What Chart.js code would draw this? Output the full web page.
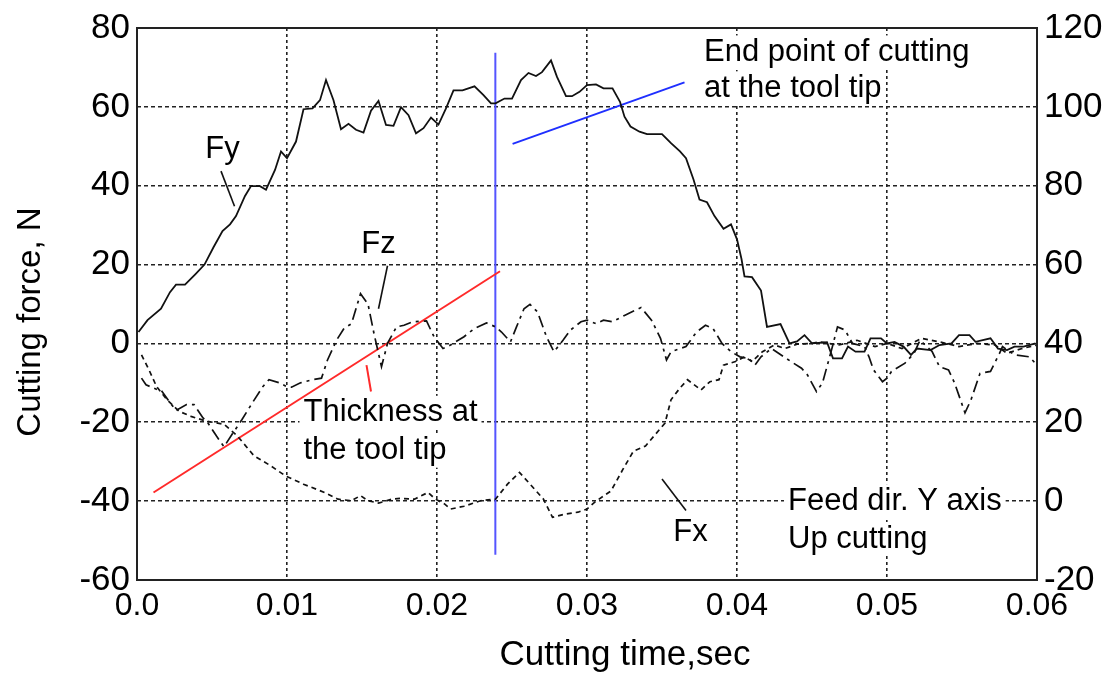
<!DOCTYPE html>
<html>
<head>
<meta charset="utf-8">
<script src="https://cdn.jsdelivr.net/npm/chart.js@4.4.1/dist/chart.umd.min.js"></script>
<style>
  body { margin: 0; background: #fff; }
  canvas { display: block; }
</style>
</head>
<body>
<canvas id="forceCanvas" width="1110" height="676"></canvas>
<script>
// axis ticks
var xTickVals = [0, 0.01, 0.02, 0.03, 0.04, 0.05, 0.06];
var xTickLabels = ['0.0', '0.01', '0.02', '0.03', '0.04', '0.05', '0.06'];
var yLeftTicks = [-60, -40, -20, 0, 20, 40, 60, 80];
var yRightTicks = [-20, 0, 20, 40, 60, 80, 100, 120];

// Fy (solid)
var fyT = [0.0001,0.0007,0.0016,0.0022,0.0026,0.0032,0.0039,0.0045,0.0051,0.0057,0.0062,0.0066,0.0072,0.0076,0.0082,0.0086,0.0092,0.0096,0.0100,0.0106,
  0.0111,0.0117,0.0122,0.0126,0.0131,0.0136,0.0141,0.0146,0.0151,0.0156,0.0161,0.0166,0.0171,0.0176,0.0181,0.0186,0.0191,0.0196,0.0201,0.0206,
  0.0211,0.0217,0.0225,0.0231,0.0236,0.0239,0.0245,0.0250,0.0256,0.0261,0.0266,0.0270,0.0276,0.0280,0.0286,0.0290,0.0295,0.0300,0.0306,0.0311,
  0.0317,0.0322,0.0325,0.0329,0.0335,0.0340,0.0350,0.0356,0.0362,0.0366,0.0371,0.0375,0.0380,0.0385,0.0391,0.0396,0.0400,0.0403,0.0405,0.0410,
  0.0416,0.0420,0.0429,0.0435,0.0440,0.0445,0.0450,0.0460,0.0464,0.0470,0.0474,0.0479,0.0485,0.0489,0.0496,0.0500,0.0505,0.0511,0.0516,0.0520,
  0.0529,0.0535,0.0543,0.0548,0.0555,0.0559,0.0569,0.0574,0.0580,0.0585,0.0591,0.0599];
var fyV = [2.9,5.9,8.8,13,14.9,14.9,17.6,20,24.4,28.5,30.2,32.3,37.4,39.9,39.9,39,44,48.7,47,51.2,
  59.4,59.6,61.7,66.8,61.7,54.3,55.7,54.2,53.5,59,61.5,55.4,55.2,59.9,57.9,53.3,54.6,57.3,55.5,59.6,
  64.2,64.2,65.2,63,60.9,60.9,62.1,62.1,66.8,68.6,67.8,68.8,71.8,67.6,62.7,62.7,63.8,65.5,65.7,64.7,
  64.7,61.3,57.5,55,53.7,53.1,53.1,50.8,48.7,47,41.6,36.5,35.8,32.3,29.1,30.2,26.4,21.4,17,16.8,
  13.4,4.2,4.9,0,0.5,2.1,0,0.3,-3.8,-3.8,-0.8,-2.1,-2.1,1.3,1.3,0,0.4,-0.8,-2.9,-1.3,
  -1.7,-0.4,0,2.1,2.1,0.4,1.3,-1.3,-1.7,-0.8,-0.8,0];

// Fz (dash-dot)
var fzT = [0.0003,0.0006,0.0014,0.0016,0.0022,0.0026,0.0033,0.0038,0.0044,0.0047,0.0053,0.0058,0.0064,0.0070,0.0077,0.0084,0.0088,0.0095,0.0100,0.0103,
  0.0109,0.0117,0.0123,0.0127,0.0133,0.0138,0.0143,0.0149,0.0154,0.0158,0.0163,0.0167,0.0173,0.0178,0.0184,0.0193,0.0198,0.0204,0.0209,0.0218,
  0.0225,0.0233,0.0239,0.0243,0.0249,0.0253,0.0258,0.0262,0.0267,0.0273,0.0278,0.0284,0.0289,0.0296,0.0300,0.0306,0.0311,0.0317,0.0325,0.0336,
  0.0343,0.0349,0.0353,0.0356,0.0366,0.0373,0.0379,0.0384,0.0390,0.0396,0.0402,0.0408,0.0412,0.0416,0.0423,0.0436,0.0443,0.0447,0.0453,0.0457,
  0.0463,0.0467,0.0472,0.0477,0.0485,0.0488,0.0491,0.0497,0.0500,0.0503,0.0512,0.0518,0.0522,0.0530,0.0535,0.0541,0.0545,0.0552,0.0556,0.0562,
  0.0569,0.0575,0.0577,0.0585,0.0595,0.0600];
var fzV = [-8.8,-10.5,-11.8,-11.8,-15,-17,-15.5,-15.5,-18.9,-20,-23.5,-26.2,-22.7,-19.3,-15,-10.9,-9.2,-10,-11,-11.1,
  -10,-9.2,-8.8,-4.2,0.8,3.8,5,12.6,10,2.5,-5.9,0,4.2,4.6,5.5,5.7,1.7,-1.3,-0.4,1.7,
  3.8,5.2,4.2,2.9,0.4,4.2,8.8,9.9,8,1.7,-2.1,0.8,3.4,5.5,5.9,5,5.9,5.5,7.1,9.1,
  5.9,1.3,-4.2,-2.1,-0.8,2.9,4.6,3.8,0,-2.1,-3.4,-3.8,-5.5,-3.4,-1.3,-4.6,-6.3,-8,-12.2,-10,
  -1.7,4.2,3.4,0,-0.8,-3.4,-6.7,-9.7,-8.8,-7.1,-5,-2.5,0.8,-2,-5.9,-6.7,-10,-17.6,-14.3,-7.6,
  -7.1,-2.5,-0.8,-2.9,-3.4,-5.5];

// Fx (short dash)
var fxT = [0.0003,0.0008,0.0013,0.0020,0.0028,0.0036,0.0046,0.0058,0.0067,0.0078,0.0089,0.0099,0.0111,0.0125,0.0134,0.0143,0.0149,0.0154,0.0161,0.0170,
  0.0176,0.0185,0.0194,0.0199,0.0205,0.0209,0.0218,0.0229,0.0239,0.0247,0.0255,0.0263,0.0271,0.0277,0.0285,0.0294,0.0300,0.0305,0.0316,0.0324,
  0.0331,0.0339,0.0352,0.0356,0.0362,0.0367,0.0376,0.0382,0.0388,0.0391,0.0399,0.0405,0.0410,0.0417,0.0425,0.0432,0.0440,0.0450,0.0455,0.0468,
  0.0480,0.0492,0.0500,0.0510,0.0523,0.0535,0.0548,0.0560,0.0572,0.0580,0.0590,0.0600];
var fxV = [-2.9,-6.7,-10.9,-14.3,-17.2,-18.5,-19.7,-20.5,-23.5,-28.5,-31,-33.6,-35.7,-37.8,-39.5,-39.9,-38.6,-39.9,-40.5,-39.5,
  -39.3,-39.5,-37.8,-39.5,-40.7,-42,-41.3,-39.9,-39.5,-35.7,-32.7,-36.1,-39.5,-44.1,-43.3,-42.8,-42,-40.3,-37.4,-31.9,
  -27.3,-26,-20.2,-14.3,-11.3,-9.2,-11.8,-9.7,-9.2,-5.5,-4.6,-3.4,-4.6,-2.1,-0.4,-1.3,-0.2,0,0.4,-0.4,
  0.8,-0.8,0,-1.3,1.3,0.4,-0.8,0,-0.4,-2.5,-1.3,-0.4];

// marker lines (time, force)
var thicknessT = [0.0011, 0.0242];
var thicknessV = [-37.8, 18.3];
var thicknessTickT = [0.0153, 0.0156];
var thicknessTickV = [-5.5, -12.2];
var endCutT = [0.02389, 0.02389];
var endCutV = [73.7, -53.6];
var endPointerT = [0.02504, 0.0365];
var endPointerV = [50.6, 66.2];
var fyLeaderT = [0.0056, 0.0065];
var fyLeaderV = [43.7, 34.8];
var fzLeaderT = [0.0167, 0.0161];
var fzLeaderV = [19.7, 8.8];
var fxLeaderT = [0.0350, 0.0366];
var fxLeaderV = [-34.4, -42.4];

function pts(ts, vs){
    return ts.map(function(t, i){ return {x: t, y: vs[i]}; });
}

var FONT = "'Liberation Sans', Arial, sans-serif";

function line(data, color, width, dash){
    return {
        data: data,
        borderColor: color,
        borderWidth: width,
        borderDash: dash || [],
        pointRadius: 0,
        fill: false,
        tension: 0
    };
}

// white-boxed notes, placed in data coords
var notesPlugin = {
    id: 'notes',
    beforeDatasetsDraw: function(chart){
        var ctx = chart.ctx, x = chart.scales.x, y = chart.scales.y;
        var notes = [
            ['Fy', 0.0057, 49.1, 'center'],
            ['Fz', 0.0161, 25.2, 'center'],
            ['Fx', 0.0369, -47.9, 'center'],
            ['End point of cutting', 0.0378, 73.8, 'left'],
            ['at the tool tip', 0.0378, 64.7, 'left'],
            ['Thickness at', 0.0111, -17.6, 'left'],
            ['the tool tip', 0.0111, -27.2, 'left'],
            ['Feed dir. Y axis', 0.0434, -40, 'left'],
            ['Up cutting', 0.0434, -49.6, 'left']
        ];
        ctx.save();
        ctx.font = '31px ' + FONT;
        ctx.textBaseline = 'middle';
        notes.forEach(function(n){
            var px = x.getPixelForValue(n[1]);
            var py = y.getPixelForValue(n[2]);
            var w = ctx.measureText(n[0]).width;
            var left = n[3] == 'center' ? px - w / 2 : px;
            ctx.fillStyle = '#fff';
            ctx.fillRect(left - 4, py - 17, w + 8, 34);
            ctx.fillStyle = '#000';
            ctx.textAlign = 'left';
            ctx.fillText(n[0], left, py);
        });
        ctx.restore();
    },
    afterDraw: function(chart){
        var ctx = chart.ctx, a = chart.chartArea;
        ctx.save();
        ctx.strokeStyle = '#222';
        ctx.lineWidth = 2;
        ctx.strokeRect(a.left, a.top, a.right - a.left, a.bottom - a.top);
        ctx.fillStyle = '#000';
        ctx.font = '35px ' + FONT;
        ctx.textAlign = 'center';
        ctx.textBaseline = 'middle';
        ctx.fillText('Cutting time,sec', 625, 655);
        ctx.font = '33px ' + FONT;
        ctx.translate(31, 322);
        ctx.rotate(-Math.PI / 2);
        ctx.fillText('Cutting force, N', 0, 0);
        ctx.restore();
    }
};

var config = {
    type: 'line',
    data: {
        datasets: [
            line(pts(fyT, fyV), '#111', 1.8),
            line(pts(fzT, fzV), '#111', 1.7, [12, 5, 3, 5]),
            line(pts(fxT, fxV), '#111', 1.7, [5, 4]),
            line(pts(thicknessT, thicknessV), '#ff2a2a', 2),
            line(pts(thicknessTickT, thicknessTickV), '#ff2a2a', 2),
            line(pts(endCutT, endCutV), '#5555ff', 2),
            line(pts(endPointerT, endPointerV), '#1f2fff', 2),
            line(pts(fyLeaderT, fyLeaderV), '#111', 1.6),
            line(pts(fzLeaderT, fzLeaderV), '#111', 1.6),
            line(pts(fxLeaderT, fxLeaderV), '#111', 1.6)
        ]
    },
    options: {
        responsive: false,
        animation: false,
        devicePixelRatio: 1,
        layout: { padding: { top: 23, left: 0, right: 0, bottom: 0 } },
        plugins: { legend: { display: false }, tooltip: { enabled: false } },
        scales: {
            x: {
                type: 'linear',
                min: 0,
                max: 0.06,
                afterBuildTicks: function(s){ s.ticks = xTickVals.map(function(v){ return {value: v}; }); },
                afterFit: function(s){ s.height = 96; },
                ticks: {
                    autoSkip: false,
                    maxRotation: 0,
                    padding: 7,
                    color: '#000',
                    font: { family: FONT, size: 32 },
                    callback: function(v, i){ return xTickLabels[i]; }
                },
                grid: { color: '#222', lineWidth: 1.6, drawTicks: false },
                border: { display: false, dash: [3, 3] }
            },
            y: {
                type: 'linear',
                position: 'left',
                min: -60,
                max: 80,
                afterBuildTicks: function(s){ s.ticks = yLeftTicks.map(function(v){ return {value: v}; }); },
                afterFit: function(s){ s.width = 137; },
                ticks: {
                    padding: 7,
                    color: '#000',
                    font: { family: FONT, size: 35 }
                },
                grid: { color: '#222', lineWidth: 1.6, drawTicks: false },
                border: { display: false, dash: [4, 3] }
            },
            y2: {
                type: 'linear',
                position: 'right',
                min: -20,
                max: 120,
                afterBuildTicks: function(s){ s.ticks = yRightTicks.map(function(v){ return {value: v}; }); },
                afterFit: function(s){ s.width = 73; },
                ticks: {
                    padding: 7,
                    color: '#000',
                    font: { family: FONT, size: 35 }
                },
                grid: { display: false, drawTicks: false },
                border: { display: false }
            }
        }
    },
    plugins: [notesPlugin]
};

new Chart(document.getElementById('forceCanvas'), config);
</script>
</body>
</html>
